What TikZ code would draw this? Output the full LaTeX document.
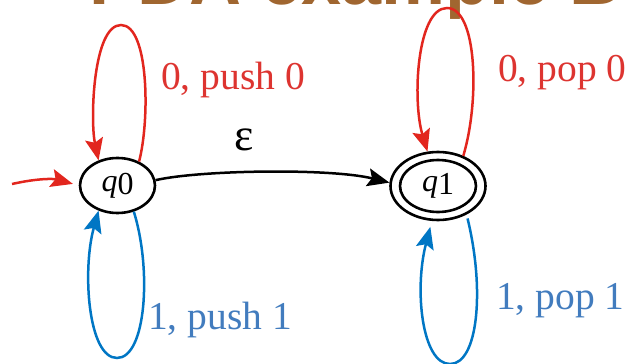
\documentclass[tikz,border=0pt]{standalone}
\usepackage{fontspec}
\setmainfont{Liberation Serif}
\newfontfamily\titlefont{Liberation Sans}
\usetikzlibrary{arrows.meta,shapes.geometric}
\definecolor{lred}{RGB}{226,38,30}
\definecolor{tred}{RGB}{221,52,48}
\definecolor{lblue}{RGB}{0,118,196}
\definecolor{tblue}{RGB}{66,124,190}
\definecolor{tbrown}{RGB}{160,102,48}
\begin{document}
\begin{tikzpicture}[x=1pt,y=-1pt,
  state/.style={ellipse,draw,line width=2.6pt,inner sep=0pt,font=\fontsize{32}{32}\selectfont},
  tip/.style={-{Stealth[length=22pt,width=18pt,inset=4pt]}},
  redline/.style={draw=lred,line width=2.5pt,tip},
  blueline/.style={draw=lblue,line width=2.5pt,tip},
  blackline/.style={draw=black,line width=2.5pt,tip},
  lab/.style={anchor=base west,inner sep=0pt,font=\fontsize{39.5}{40}\selectfont}
]
\useasboundingbox (0,0) rectangle (638,364);
\clip (0,0) rectangle (638,364);
\node[font=\titlefont\bfseries\fontsize{72}{72}\selectfont, text=tbrown, anchor=base west, inner sep=0pt] (title) at (89,5) {PDA example B};

\node[state, minimum width=75pt, minimum height=55pt] (q0) at (117.5,185.5) {\itshape q\upshape\raisebox{-3pt}{0}};
\node[state, minimum width=95pt, minimum height=68pt] (q1) at (438,186) {};
\node[state, minimum width=76pt, minimum height=52pt] (q1i) at (q1.center) {\itshape q\upshape\raisebox{-3pt}{1}};

% initial arrow
\coordinate (init) at (12,184);
\draw[redline, shorten >=6pt] (init) to[bend left=14] (q0.west);

% epsilon transition
\draw[blackline] (q0.8) .. controls (200,170) and (330,168) .. (q1.176);
\node[font=\fontsize{46}{46}\selectfont, inner sep=0pt] (eps) at (244,140) {ε};

% q0 loops
\draw[redline] (q0.48) .. controls (150,120) and (149,25) .. (121,25) .. controls (93,25) and (90,120) .. (q0.127);
\draw[blueline] (q0.-58) .. controls (152,270) and (146,358) .. (117,358) .. controls (88,358) and (82,270) .. (q0.-127);

% q1 loops
\draw[redline] (q1.50) .. controls (480,100) and (477,8) .. (447,8) .. controls (417,8) and (412,100) .. (q1.107);
\draw[blueline, shorten <=4pt, shorten >=6pt] (q1.-45) .. controls (485,290) and (478,364) .. (450,364) .. controls (422,364) and (414,290) .. (q1.-100);

% labels
\node[lab, text=tred] (l00) at (161,89) {0, push 0};
\node[lab, text=tred] (l01) at (498,81) {0, pop 0};
\node[lab, text=tblue] (l10) at (148,329) {1, push 1};
\node[lab, text=tblue] (l11) at (496,309) {1, pop 1};
\end{tikzpicture}
\end{document}
